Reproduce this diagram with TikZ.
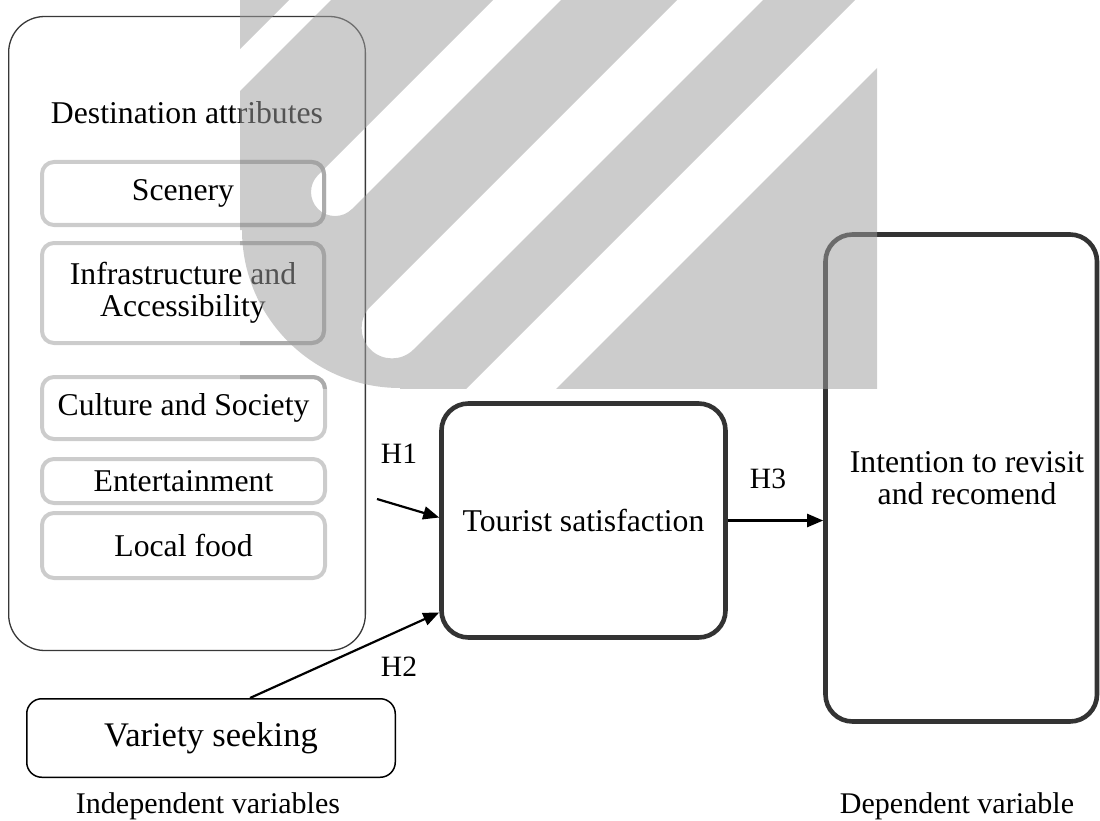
\documentclass[tikz,border=0pt]{standalone}
\usepackage{fontspec}
\setmainfont{Liberation Serif}
\usetikzlibrary{arrows.meta}
\newcommand{\diagfont}{\fontsize{31.7}{32}\selectfont}

\begin{document}
\begin{tikzpicture}[x=1pt, y=-1pt,
  outerbox/.style={draw=black!78, line width=1.3pt, rounded corners=36pt,
    minimum width=356.7pt, minimum height=634pt, inner sep=0pt},
  itembox/.style={draw=black!20, line width=4pt, rounded corners=12pt,
    outer sep=0pt, inner sep=0pt, minimum width=283pt, align=center, font=\diagfont},
  itemrim/.style={draw=black!33, line width=4pt, rounded corners=12pt},
  mainbox/.style={draw=black!80, line width=4.6pt, rounded corners=27pt,
    inner sep=0pt, align=center, font=\diagfont},
  varbox/.style={draw=black, line width=1.5pt, rounded corners=15pt,
    minimum width=368.5pt, minimum height=78.5pt, inner sep=0pt,
    font=\fontsize{34.5}{35}\selectfont},
  plain/.style={inner sep=0pt, align=center, font=\diagfont},
  hyp/.style={inner sep=0pt, font=\fontsize{29.5}{30}\selectfont},
  caption/.style={inner sep=0pt, font=\fontsize{30}{30}\selectfont},
  link/.style={-{Triangle[length=16pt,width=13pt]}, line width=2.2pt},
  wmark/.style={fill=black!38, fill opacity=0.53}
]
\useasboundingbox (0,0) rectangle (1100,821);

% independent variables
\node[outerbox] (dest) at (187,333.5) {};
\node[plain] (destlabel) at (187,113) {Destination attributes};
\node[itembox, minimum width=282pt, minimum height=63pt] (scenery) at (183,193.5) {Scenery};
\node[itembox, minimum width=282pt, minimum height=100pt] (infra) at (183,293) {Infrastructure and\\Accessibility};
\node[itembox, minimum height=62pt] (culture) at (183.5,408) {Culture and Society};
\node[itembox, minimum height=44pt] (enter) at (183.5,481) {Entertainment};
\node[itembox, minimum height=65pt] (food) at (183.5,545.5) {Local food};
\node[varbox] (variety) at (211,738) {Variety seeking};

% mediator and outcome
\node[mainbox, minimum width=284pt, minimum height=234pt] (tourist) at (583.5,520.5) {Tourist satisfaction};
\node[mainbox, minimum width=271.5pt, minimum height=487pt] (intent) at (961.25,478) {};
\node[plain] (intentlabel) at (967,478) {Intention to revisit\\and recomend};

% captions
\node[caption] (indep) at (208,806) {Independent variables};
\node[caption] (dep) at (957,806) {Dependent variable};

% hypotheses
\coordinate (h1s) at (377,499);
\draw[link] (h1s) -- ([yshift=3pt]tourist.west);
\draw[link] ([xshift=39pt]variety.north) -- ([yshift=-92pt]tourist.west);
\draw[link] (tourist.east) -- (tourist.east -| intent.west);
\node[hyp] (h1) at (399,454) {H1};
\node[hyp] (h2) at (399,667) {H2};
\node[hyp] (h3) at (768,479) {H3};

% darker rims inside the logo area
\begin{scope}
  \clip (240,0) rectangle (877,388);
  \foreach \b in {scenery,infra,culture}
    \draw[itemrim] (\b.north west) rectangle (\b.south east);
\end{scope}

% translucent logo
\begin{scope}
  \clip (240,0) rectangle (877,388);
  \fill[wmark, even odd rule]
    (200,-40) rectangle (920,420)
    (309,-20) -- (351,-20) -- (211,120) -- (169,120) -- cycle
    (318,175) -- (568,-75) -- (602,-41) -- (352,209)
      arc[start angle=-45, end angle=-225, radius=24pt] -- cycle
    (370.5,306.5) -- (820.5,-143.5) -- (863.5,-100.5) -- (413.5,349.5)
      arc[start angle=-45, end angle=-225, radius=30.4pt] -- cycle
    (875,-20) -- (965,-20) -- (525,420) -- (435,420) -- cycle
    (200,230) -- (242,230) arc[start angle=180, end angle=270, radius=158pt]
      -- (400,420) -- (200,420) -- cycle;
\end{scope}
\end{tikzpicture}
\end{document}
